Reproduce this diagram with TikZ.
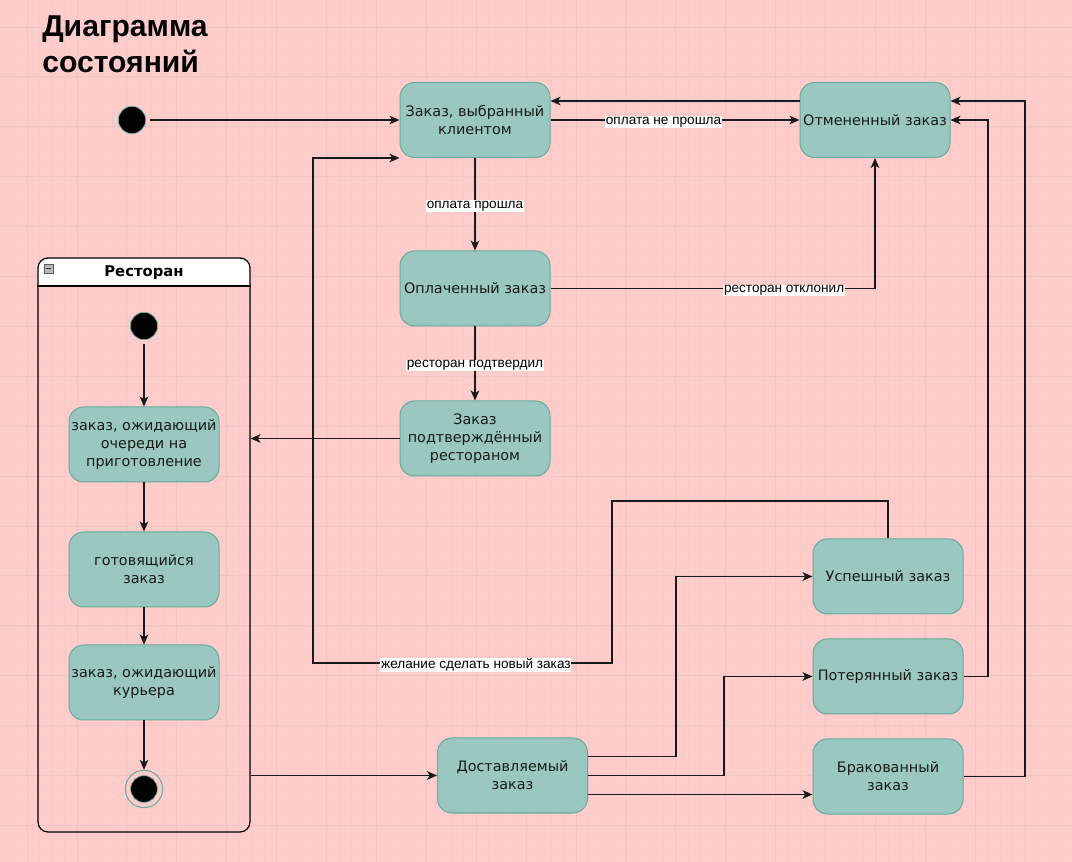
\documentclass[tikz,border=0pt]{standalone}
\usepackage{fontspec}
\setmainfont{Liberation Sans}
\newfontfamily\dvs{DejaVu Sans}
\usetikzlibrary{arrows.meta,calc}
\definecolor{bg}{HTML}{FFCCCC}
\definecolor{gridminor}{HTML}{FAC9C9}
\definecolor{gridmajor}{HTML}{EFC5C5}
\definecolor{sfill}{HTML}{9AC7BF}
\definecolor{sline}{HTML}{67AB9F}
\definecolor{ecol}{HTML}{1A1A1A}
\definecolor{tcol}{HTML}{1A1A1A}
\tikzset{
  state/.style={draw=sline, fill=sfill, line width=0.75pt, rounded corners=11pt,
    minimum width=112.5pt, minimum height=56.25pt, align=center, inner sep=1pt,
    text=tcol, font=\dvs\fontsize{10.8}{13.5}\selectfont},
  startdot/.style={circle, fill=black, draw=sline, line width=0.6pt, minimum size=20.5pt, inner sep=0pt},
  edge/.style={draw=ecol, line width=0.9pt, -{Stealth[length=7.5pt,width=6.5pt,inset=2pt]}},
  lbl/.style={fill=white, inner sep=0.6pt, text=black, yshift=-1.5pt, font=\fontsize{10.2}{12}\selectfont},
  container/.style={draw=black, line width=0.9pt, rounded corners=7.5pt,
    minimum width=159pt, minimum height=430.5pt, inner sep=0pt}
}
\begin{document}
\begin{tikzpicture}[x=0.75pt, y=-0.75pt]
% background
\fill[bg] (0,0) rectangle (1072,862);
\useasboundingbox (0,0) rectangle (1072,862);
\foreach \i in {0,...,85} {
  \pgfmathsetmacro\gx{2.05+12.475*\i}
  \draw[gridminor, line width=0.4pt] (\gx,0) -- (\gx,862);
}
\foreach \i in {0,...,69} {
  \pgfmathsetmacro\gy{2.05+12.475*\i}
  \draw[gridminor, line width=0.4pt] (0,\gy) -- (1072,\gy);
}
\foreach \i in {0,...,20} {
  \pgfmathsetmacro\gx{27+49.9*\i}
  \draw[gridmajor, line width=0.6pt] (\gx,0) -- (\gx,862);
}
\foreach \i in {0,...,16} {
  \pgfmathsetmacro\gy{27+49.9*\i}
  \draw[gridmajor, line width=0.6pt] (0,\gy) -- (1072,\gy);
}

% title
\node[anchor=north west, align=left, inner sep=0pt, font=\bfseries\fontsize{22.6}{26.3}\selectfont] (title) at (42,16) {Диаграмма\\состояний};

% restaurant container
\begin{scope}
  \clip (30,250) rectangle (260,286);
  \fill[white, rounded corners=7.5pt] (38,258) rectangle (250,320);
\end{scope}
\node[container] (rest) at (144,545) {};
\draw[black, line width=0.9pt] (rest.west |- 0,286) coordinate (hl) -- (rest.east |- hl);
\node[font=\dvs\bfseries\fontsize{11.1}{12}\selectfont] (resttitle) at (144,272.5) {Ресторан};
\node[draw=gray!70!black, fill=gray!55, minimum width=7pt, minimum height=6.5pt, inner sep=0pt] (icon) at (48.5,268.5) {};
\draw[black!80, line width=0.6pt] ($(icon.west)+(1.6pt,0)$) -- ($(icon.east)+(-1.6pt,0)$);

% states
\node[startdot] (ini) at (132,120) {};
\node[state] (zak) at (475,120) {Заказ, выбранный\\клиентом};
\node[state] (otm) at (875,120) {Отмененный заказ};
\node[state] (opl) at (475,288.5) {Оплаченный заказ};
\node[state] (pod) at (475,438.5) {Заказ\\подтверждённый\\рестораном};

\node[startdot] (ini2) at (144,326) {};
\node[state] (och) at (144,444.5) {заказ, ожидающий\\очереди на\\приготовление};
\node[state] (got) at (144,569.5) {готовящийся\\заказ};
\node[state] (kur) at (144,682.5) {заказ, ожидающий\\курьера};
\node[circle, draw=sline, line width=0.75pt, minimum size=28pt, inner sep=0pt] (fin) at (144,789) {};
\node[circle, fill=black, draw=sline, line width=0.5pt, minimum size=20pt, inner sep=0pt] (fincore) at (fin) {};

\node[state] (dos) at (512.5,775.5) {Доставляемый\\заказ};
\node[state] (usp) at (888,576.5) {Успешный заказ};
\node[state] (pot) at (888,676.5) {Потерянный заказ};
\node[state] (bra) at (888,776.5) {Бракованный\\заказ};

% helper coordinates
\coordinate (o1) at ($(otm.north west)!0.25!(otm.south west)$);
\coordinate (o2) at ($(otm.north east)!0.25!(otm.south east)$);
\coordinate (d1) at ($(dos.north east)!0.25!(dos.south east)$);
\coordinate (d3) at ($(dos.north east)!0.75!(dos.south east)$);
\coordinate (k1) at (676,0);
\coordinate (k2) at (724,0);
\coordinate (k3) at (988,0);
\coordinate (k4) at (1025,0);
\coordinate (w1) at (612,501);
\coordinate (w2) at (313,663);

% connectors
\draw[edge, shorten <=3pt] (ini) -- (zak);
\draw[edge] (zak.east) -- node[lbl, pos=0.454] {оплата не прошла} (otm.west);
\draw[edge] (o1) -- (o1 -| zak.east);
\draw[edge] (zak) -- node[lbl] {оплата прошла} (opl);
\draw[edge] (opl.east) -| node[lbl, pos=0.36] {ресторан отклонил} (otm.south);
\draw[edge] (opl) -- node[lbl] {ресторан подтвердил} (pod);
\draw[edge] (pod.west) -- (pod.west -| rest.east);
\draw[edge] (rest.east |- dos.west) -- (dos.west);

\draw[edge, shorten <=3pt] (ini2) -- (och);
\draw[edge] (och) -- (got);
\draw[edge] (got) -- (kur);
\draw[edge] (kur) -- (fin);

\draw[edge] (d1) -- (d1 -| k1) |- (usp.west);
\draw[edge] (dos.east) -- (dos.east -| k2) |- (pot.west);
\draw[edge] (d3) -- (d3 -| bra.west);
\draw[edge] (pot.east) -- (pot.east -| k3) |- (otm.east);
\draw[edge] (bra.east) -- (bra.east -| k4) |- (o2);
\draw[edge] (usp.north) |- (w1) -- (w1 |- w2) -- node[lbl, pos=0.455] {желание сделать новый заказ} (w2) |- (zak.south west);
\end{tikzpicture}
\end{document}
